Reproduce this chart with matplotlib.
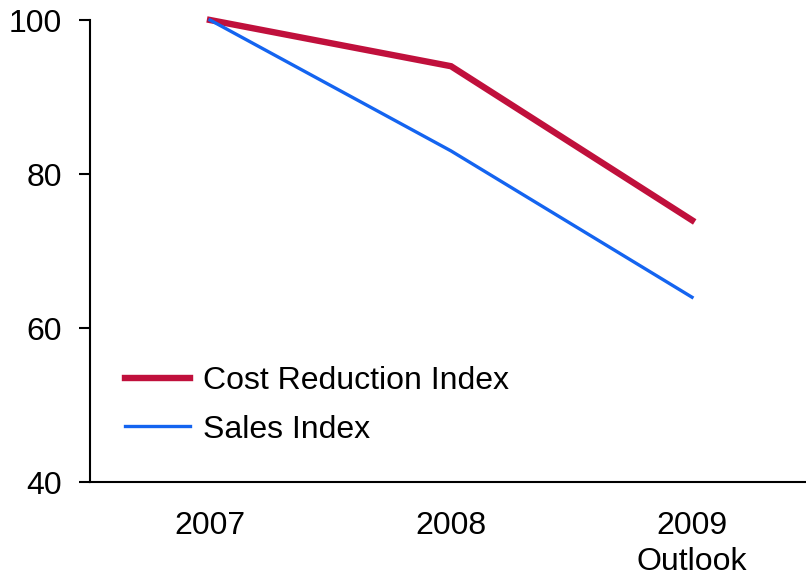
import matplotlib.pyplot as plt

plt.rcParams['font.family'] = ['Liberation Sans', 'DejaVu Sans']

years = ["2007", "2008", "2009\nOutlook"]
cost_index = [100, 94, 74]
sales_index = [100, 83, 64]

fig = plt.figure(figsize=(8.06, 5.77), dpi=100)
ax = fig.add_axes([0.1117, 0.1646, 0.8883, 0.8007])

x = range(len(years))
ax.plot(x, cost_index, color="#C0103C", lw=4.6, label="Cost Reduction Index",
        clip_on=False, solid_joinstyle="miter")
ax.plot(x, sales_index, color="#1464F0", lw=2.4, label="Sales Index",
        clip_on=False)

ax.set_xlim(-0.498, 2.473)
ax.set_ylim(40, 100)
ax.set_yticks([40, 60, 80, 100])
ax.set_xticks(list(x))
ax.set_xticklabels(years, linespacing=1.25)

for s in ["top", "right"]:
    ax.spines[s].set_visible(False)
for s in ["left", "bottom"]:
    ax.spines[s].set_linewidth(1.5)

ax.tick_params(axis="y", direction="out", length=8, width=1.5, pad=12, labelsize=23)
ax.tick_params(axis="x", length=0, pad=21, labelsize=23)

ax.legend(loc="upper left", bbox_to_anchor=(0.049, 0.251), frameon=False,
          fontsize=23, handlelength=2.03, handletextpad=0.4, labelspacing=0.58,
          borderpad=0, borderaxespad=0)

fig.savefig("out.png", dpi=100)
